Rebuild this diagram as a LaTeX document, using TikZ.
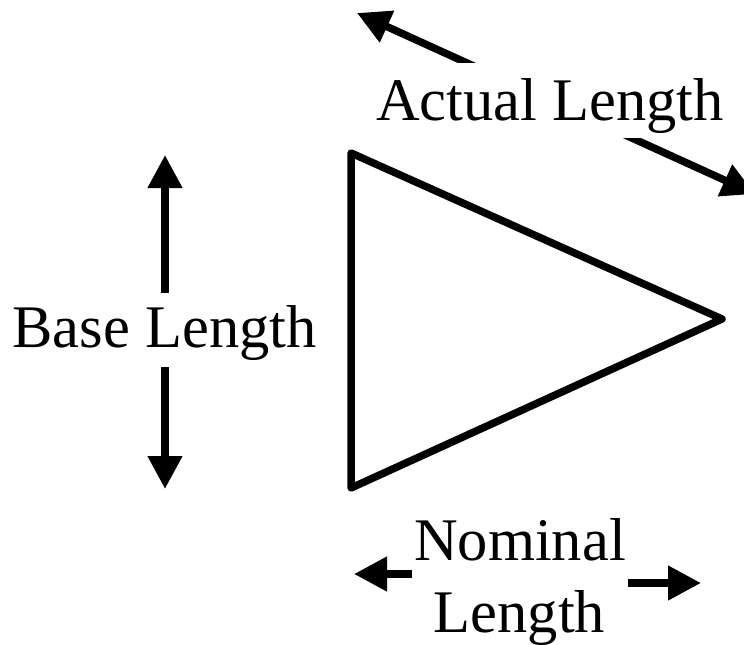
\documentclass[tikz,border=0pt]{standalone}
\usepackage{fontspec}
\setmainfont{Liberation Serif}
\usetikzlibrary{arrows.meta}
\begin{document}
\begin{tikzpicture}[x=1bp,y=-1bp,
  dimarrow/.style={line width=7.5bp,{Triangle[length=33bp,width=33bp]}-{Triangle[length=33bp,width=33bp]}},
  halfarrow/.style={line width=7.5bp,-{Triangle[length=33bp,width=33bp]}},
  dimlabel/.style={font=\fontsize{60.5bp}{72bp}\selectfont,fill=white,inner sep=0pt,anchor=base},
  triline/.style={line width=7.5bp,line join=round}]
\useasboundingbox (0,0) rectangle (744,645);
% triangle
\coordinate (t1) at (351,153);
\coordinate (t2) at (722,319);
\coordinate (t3) at (351,488);
\draw[triline] (t1) -- (t2) -- (t3) -- cycle;
% base length
\coordinate (bTop) at (165,155);
\coordinate (bBot) at (165,489);
\draw[dimarrow] (bTop) -- (bBot);
\node[dimlabel,text height=54bp,text depth=20bp] (base) at (164.5,347) {Base Length};
% actual length
\coordinate (aL) at (357,13);
\coordinate (aR) at (755,194);
\draw[dimarrow] (aL) -- (aR);
\node[dimlabel,text height=58bp,text depth=17bp] (actual) at (550,121) {Actual Length};
% nominal length
\node[dimlabel,inner xsep=1.5bp] (nom) at (520,560) {Nominal};
\node[dimlabel] (len) at (519.5,632) {Length};
\coordinate (nL) at (354,574);
\coordinate (nR) at (701,583);
\draw[halfarrow] (nom.west |- nL) -- (nL);
\draw[halfarrow] (nom.east |- nR) -- (nR);
\end{tikzpicture}
\end{document}
